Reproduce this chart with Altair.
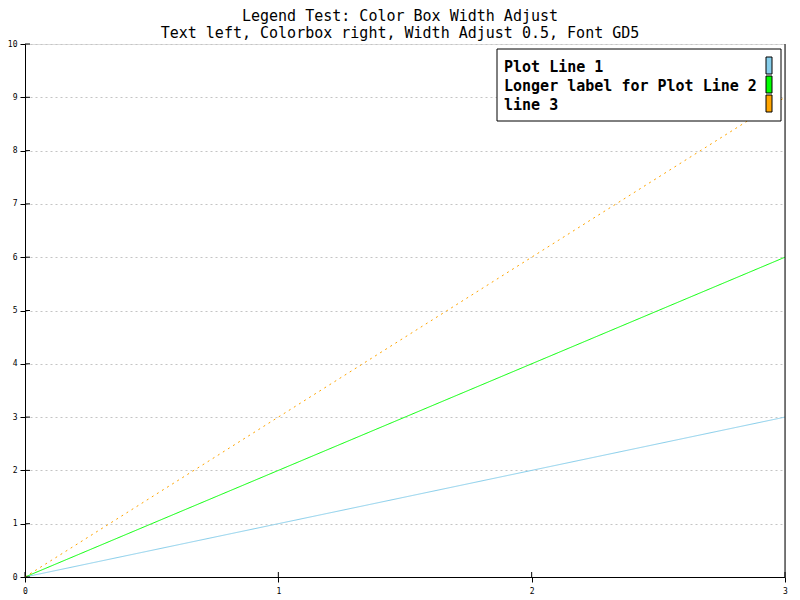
import altair as alt
import pandas as pd

x_vals = [0, 3]
series_names = ["Plot Line 1", "Longer label for Plot Line 2", "line 3"]
series_y = [[0, 3], [0, 6], [0, 9]]
series_colors = ["#87CEEB", "#00FF00", "#FFA500"]
y_ticks = list(range(0, 11))
x_ticks = [0, 1, 2, 3]
title_lines = ["Legend Test: Color Box Width Adjust",
               "Text left, Colorbox right, Width Adjust 0.5, Font GD5"]

rows = []
for name, ys in zip(series_names, series_y):
    for xv, yv in zip(x_vals, ys):
        rows.append({"x": xv, "y": yv, "series": name})
df = pd.DataFrame(rows)

FONT = "DejaVu Sans Mono"
W, H = 760, 533

xscale = alt.Scale(domain=[0, 3], nice=False)
yscale = alt.Scale(domain=[0, 10], nice=False)

x_axis = alt.Axis(values=x_ticks, format="d", grid=False, domainColor="black",
                  tickColor="black", tickSize=5, labelFont=FONT, labelFontSize=8,
                  labelColor="black", labelPadding=5, title=None, labelFlush=False)
y_axis = alt.Axis(values=y_ticks, format="d", grid=True, gridColor="#c4c4c4",
                  gridDash=[2, 3], domainColor="black", tickColor="black",
                  tickSize=5, labelFont=FONT, labelFontSize=8, labelColor="black",
                  labelPadding=3, title=None, labelFlush=False)

lines = []
for name, col in zip(series_names, series_colors):
    dash = [2, 4] if name == "line 3" else [1, 0]
    lines.append(
        alt.Chart(df[df.series == name]).mark_line(color=col, strokeWidth=1, strokeDash=dash, clip=True)
        .encode(x=alt.X("x:Q", scale=xscale, axis=x_axis),
                y=alt.Y("y:Q", scale=yscale, axis=y_axis))
    )

right_border = alt.Chart(pd.DataFrame({"x": [3]})).mark_rule(color="black").encode(
    x=alt.X("x:Q", scale=xscale), y=alt.value(0), y2=alt.value(H))

yt = alt.Chart(pd.DataFrame({"v": y_ticks})).mark_rule(color="black").encode(
    y=alt.Y("v:Q", scale=yscale), x=alt.value(0), x2=alt.value(5))
xt = alt.Chart(pd.DataFrame({"v": x_ticks})).mark_rule(color="black").encode(
    x=alt.X("v:Q", scale=xscale), y=alt.value(H), y2=alt.value(H - 5))

# legend
leg_left, leg_right, leg_top, leg_bottom = 472, 756, 5, 77
legend_box = alt.Chart(pd.DataFrame({"a": [0]})).mark_rect(
    fill="white", stroke="black", strokeWidth=1).encode(
    x=alt.value(leg_left), x2=alt.value(leg_right),
    y=alt.value(leg_top), y2=alt.value(leg_bottom))

leg_df = pd.DataFrame({"label": series_names, "color": series_colors, "i": [0, 1, 2]})
leg_df["ty"] = 23 + leg_df["i"] * 19
leg_df["by"] = 13 + leg_df["i"] * 19
leg_df["by2"] = leg_df["by"] + 17
leg_text = alt.Chart(leg_df).mark_text(
    align="left", baseline="middle", font=FONT, fontSize=15, fontWeight=600,
    color="black").encode(x=alt.value(479), y=alt.Y("ty:Q", scale=None), text="label:N")
leg_sw = alt.Chart(leg_df).mark_rect(stroke="black", strokeWidth=1).encode(
    x=alt.value(741), x2=alt.value(747),
    y=alt.Y("by:Q", scale=None), y2="by2:Q",
    fill=alt.Fill("color:N", scale=None))

chart = alt.layer(*lines, right_border, yt, xt, legend_box, leg_sw, leg_text).properties(
    width=W, height=H,
    title=alt.TitleParams(text=title_lines, anchor="middle", font=FONT, fontSize=15,
                          fontWeight="normal", color="black", lineHeight=17, offset=2,
                          dx=-5, dy=3),
    autosize=alt.AutoSizeParams(type="none"),
    padding={"left": 17, "top": 36, "right": 7, "bottom": 22},
).configure_view(stroke=None).configure(background="white")

chart.save("out.html", embed_options={"renderer": "svg", "actions": False})
